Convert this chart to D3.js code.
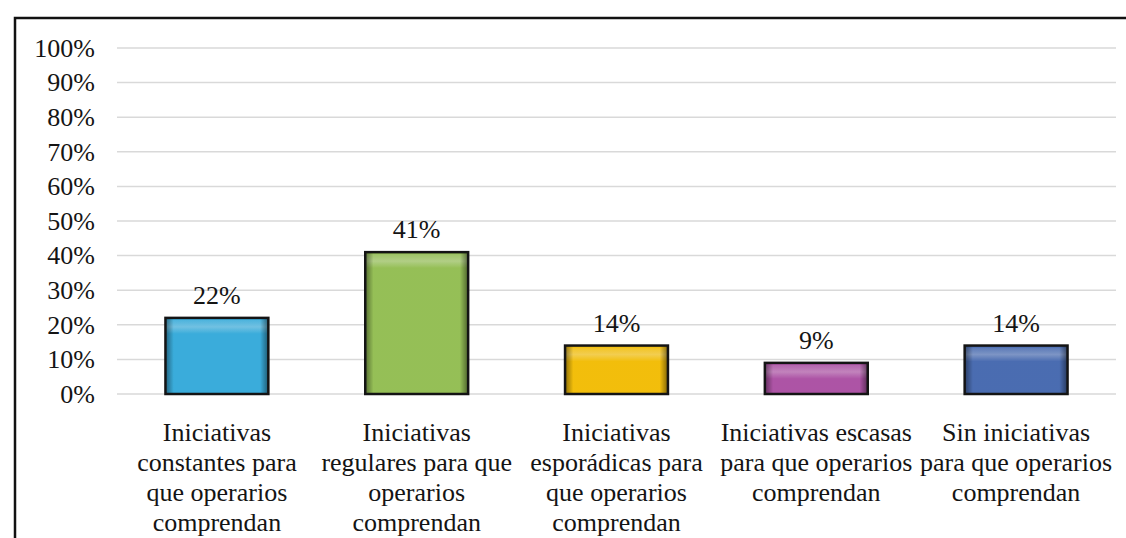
<!DOCTYPE html>
<html>
<head>
<meta charset="utf-8">
<script src="https://cdn.jsdelivr.net/npm/d3@7"></script>
<style>
  html, body { margin: 0; padding: 0; background: #fff; }
</style>
</head>
<body>
<svg id="chart" width="1126" height="538"></svg>
<script>
// data
var categories = ["c1", "c2", "c3", "c4", "c5"];
var labelLines = [
    ["Iniciativas", "constantes para", "que operarios", "comprendan"],
    ["Iniciativas", "regulares para que", "operarios", "comprendan"],
    ["Iniciativas", "esporádicas para", "que operarios", "comprendan"],
    ["Iniciativas escasas", "para que operarios", "comprendan"],
    ["Sin iniciativas", "para que operarios", "comprendan"]
];
var values = [0.22, 0.41, 0.14, 0.09, 0.14];
var barColors = ["#3db5e6", "#9dc95b", "#ffc80c", "#b658ae", "#4e72ba"];
var yTicks = [0, 0.1, 0.2, 0.3, 0.4, 0.5, 0.6, 0.7, 0.8, 0.9, 1];

var serif = "'Liberation Serif', 'Times New Roman', 'DejaVu Serif', serif";

var svg = d3.select("#chart"),
    margin = {top: 48, right: 10, bottom: 144, left: 117},
    width = +svg.attr("width") - margin.left - margin.right,
    height = +svg.attr("height") - margin.top - margin.bottom;

// outer frame (right and bottom edges fall off the picture)
svg.append("path")
    .attr("d", "M15,538V18H1126")
    .attr("fill", "none")
    .attr("stroke", "#111")
    .attr("stroke-width", 2.5);

var defs = svg.append("defs");
var sideShade = defs.append("linearGradient").attr("id", "sideShade")
    .attr("x1", 0).attr("x2", 1).attr("y1", 0).attr("y2", 0);
sideShade.append("stop").attr("offset", "0").attr("stop-color", "#000").attr("stop-opacity", 0.45);
sideShade.append("stop").attr("offset", "0.08").attr("stop-color", "#000").attr("stop-opacity", 0.05);
sideShade.append("stop").attr("offset", "0.92").attr("stop-color", "#000").attr("stop-opacity", 0.05);
sideShade.append("stop").attr("offset", "1").attr("stop-color", "#000").attr("stop-opacity", 0.5);

var topShine = defs.append("linearGradient").attr("id", "topShine")
    .attr("x1", 0).attr("x2", 0).attr("y1", 0).attr("y2", 1);
topShine.append("stop").attr("offset", "0").attr("stop-color", "#fff").attr("stop-opacity", 0.1);
topShine.append("stop").attr("offset", "0.5").attr("stop-color", "#fff").attr("stop-opacity", 0.3);
topShine.append("stop").attr("offset", "1").attr("stop-color", "#fff").attr("stop-opacity", 0);

var g = svg.append("g").attr("transform", "translate(" + margin.left + "," + margin.top + ")");

var x = d3.scaleBand()
    .domain(categories)
    .range([0, width])
    .paddingInner(0.485)
    .paddingOuter(0.2425);

var y = d3.scaleLinear()
    .domain([0, 1])
    .range([height, 0]);

// gridlines
g.append("g")
    .selectAll("line")
    .data(yTicks)
    .enter().append("line")
    .attr("x1", 0)
    .attr("x2", width)
    .attr("y1", function (d) { return y(d); })
    .attr("y2", function (d) { return y(d); })
    .attr("stroke", "#d9d9d9")
    .attr("stroke-width", 1.5);

// y axis labels
var yAxis = g.append("g")
    .call(d3.axisLeft(y).tickValues(yTicks).tickFormat(d3.format(".0%")).tickSize(0).tickPadding(22));
yAxis.select(".domain").remove();
yAxis.attr("font-family", null).attr("font-size", null);
yAxis.selectAll("text")
    .style("font-family", serif)
    .style("font-size", "26px")
    .style("fill", "#141414");

// bars
var bars = g.append("g")
    .selectAll("g")
    .data(values)
    .enter().append("g");

bars.append("rect")
    .attr("x", function (d, i) { return x(categories[i]); })
    .attr("y", function (d) { return y(d); })
    .attr("width", x.bandwidth())
    .attr("height", function (d) { return height - y(d); })
    .attr("fill", function (d, i) { return barColors[i]; });

bars.append("rect")
    .attr("x", function (d, i) { return x(categories[i]) + 1; })
    .attr("y", function (d) { return y(d) + 2; })
    .attr("width", x.bandwidth() - 2)
    .attr("height", function (d) { return Math.min(14, height - y(d) - 2); })
    .attr("fill", "url(#topShine)");

bars.append("rect")
    .attr("x", function (d, i) { return x(categories[i]); })
    .attr("y", function (d) { return y(d); })
    .attr("width", x.bandwidth())
    .attr("height", function (d) { return height - y(d); })
    .attr("fill", "url(#sideShade)")
    .attr("stroke", "#141414")
    .attr("stroke-width", 2.5);

// value labels
bars.append("text")
    .attr("x", function (d, i) { return x(categories[i]) + x.bandwidth() / 2; })
    .attr("y", function (d) { return y(d) - 14; })
    .attr("text-anchor", "middle")
    .style("font-family", serif)
    .style("font-size", "26px")
    .style("fill", "#141414")
    .text(function (d) { return d3.format(".0%")(d); });

// category labels
var xLabels = g.append("g")
    .selectAll("text")
    .data(labelLines)
    .enter().append("text")
    .attr("text-anchor", "middle")
    .style("font-family", serif)
    .style("font-size", "26px")
    .style("fill", "#141414")
    .attr("transform", function (d, i) {
        return "translate(" + (x(categories[i]) + x.bandwidth() / 2) + "," + (height + 47) + ")";
    });

xLabels.selectAll("tspan")
    .data(function (d) { return d; })
    .enter().append("tspan")
    .attr("x", 0)
    .attr("y", function (d, j) { return j * 30; })
    .text(function (d) { return d; });
</script>
</body>
</html>
